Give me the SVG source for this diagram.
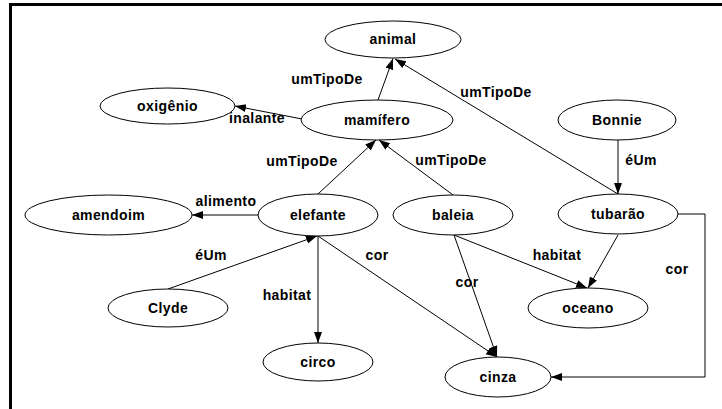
<svg xmlns="http://www.w3.org/2000/svg" width="722" height="409" viewBox="0 0 722 409">
<style>
  .n ellipse { fill: #ffffff; stroke: #000000; stroke-width: 1; }
  text { font-family: "Liberation Sans", Arial, Helvetica, sans-serif; font-weight: bold; font-size: 14px; letter-spacing: 0.4px; fill: #000000; text-anchor: middle; }
  .e path, .e line, .e polyline { fill: none; stroke: #000000; stroke-width: 1; marker-end: url(#ah); }
  .frame { stroke: #000000; stroke-width: 3; fill: none; }
</style>
<defs>
  <marker id="ah" markerUnits="userSpaceOnUse" markerWidth="12" markerHeight="9" refX="11" refY="4" orient="auto">
    <path d="M0,0 L11,4 L0,8 Z" fill="#000000"/>
  </marker>
</defs>
<rect x="0" y="0" width="722" height="409" fill="#ffffff"/>
<g id="frame">
  <line class="frame" x1="9" y1="4.5" x2="722" y2="4.5"/>
  <line class="frame" x1="10.5" y1="3" x2="10.5" y2="409"/>
</g>
<g id="edges" class="e">
  <line x1="378" y1="100" x2="393" y2="58.5"/>
  <line x1="618" y1="194" x2="395" y2="59"/>
  <line x1="302" y1="119" x2="235" y2="106"/>
  <line x1="318" y1="194" x2="376" y2="140"/>
  <line x1="453" y1="195" x2="379" y2="140"/>
  <line x1="258" y1="215" x2="192" y2="215"/>
  <line x1="168" y1="289" x2="317" y2="236"/>
  <line x1="318" y1="236" x2="318" y2="343"/>
  <line x1="318" y1="236" x2="497" y2="357"/>
  <line x1="454" y1="235" x2="497" y2="357"/>
  <line x1="454" y1="235" x2="587" y2="288"/>
  <line x1="618" y1="235" x2="588" y2="288"/>
  <polyline points="678,214 705,214 705,377 551,377"/>
  <line x1="618" y1="140" x2="618" y2="194"/>
</g>
<g id="edge-labels">
  <text x="327" y="84">umTipoDe</text>
  <text x="496" y="97">umTipoDe</text>
  <text x="257" y="123">inalante</text>
  <text x="302" y="166">umTipoDe</text>
  <text x="451" y="165">umTipoDe</text>
  <text x="226" y="206">alimento</text>
  <text x="211" y="260">éUm</text>
  <text x="287" y="300">habitat</text>
  <text x="377" y="260">cor</text>
  <text x="467" y="287">cor</text>
  <text x="557" y="260">habitat</text>
  <text x="677" y="274">cor</text>
  <text x="641" y="165">éUm</text>
</g>
<g id="animal" class="n"><ellipse cx="393" cy="39.5" rx="68" ry="18.5"/><text x="393" y="43.5">animal</text></g>
<g id="oxigenio" class="n"><ellipse cx="167.5" cy="106" rx="67.5" ry="18"/><text x="167.5" y="111">oxigênio</text></g>
<g id="mamifero" class="n"><ellipse cx="377" cy="120" rx="76" ry="20"/><text x="377" y="125">mamífero</text></g>
<g id="bonnie" class="n"><ellipse cx="617" cy="120" rx="59" ry="20"/><text x="617" y="125">Bonnie</text></g>
<g id="amendoim" class="n"><ellipse cx="108.5" cy="215" rx="83.5" ry="20"/><text x="108.5" y="220">amendoim</text></g>
<g id="elefante" class="n"><ellipse cx="318" cy="215" rx="60" ry="21"/><text x="318" y="220">elefante</text></g>
<g id="baleia" class="n"><ellipse cx="453" cy="215" rx="60" ry="20"/><text x="453" y="220">baleia</text></g>
<g id="tubarao" class="n"><ellipse cx="618" cy="214" rx="60" ry="20"/><text x="618" y="219">tubarão</text></g>
<g id="clyde" class="n"><ellipse cx="168" cy="308" rx="60" ry="19"/><text x="168" y="313">Clyde</text></g>
<g id="oceano" class="n"><ellipse cx="588" cy="308" rx="60" ry="20"/><text x="588" y="313">oceano</text></g>
<g id="circo" class="n"><ellipse cx="318" cy="362" rx="55" ry="19"/><text x="318" y="367">circo</text></g>
<g id="cinza" class="n"><ellipse cx="498" cy="377" rx="53" ry="20"/><text x="498" y="382">cinza</text></g>
</svg>
